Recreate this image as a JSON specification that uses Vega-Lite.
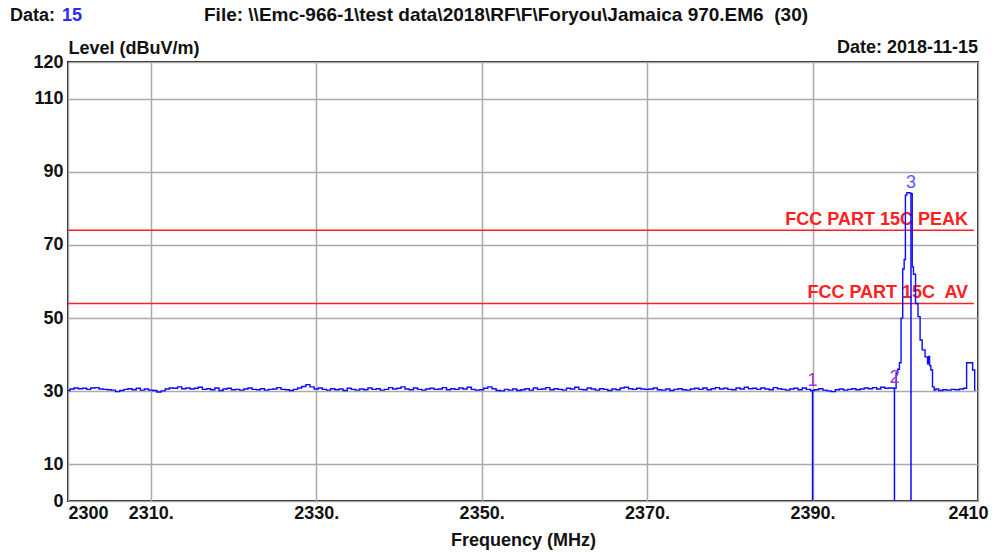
{
  "$schema": "https://vega.github.io/schema/vega-lite/v6.json",
  "width": 910,
  "height": 439,
  "autosize": {"type": "none"},
  "padding": {"left": 68, "top": 62, "right": 17, "bottom": 52},
  "background": "white",
  "config": {
    "view": {"stroke": "#1a1a1a", "strokeWidth": 2},
    "font": "Liberation Sans",
    "text": {"font": "Liberation Sans"}
  },
  "datasets": {
    "trace": [
      {"freq":2300.0,"level":30.2},{"freq":2300.5,"level":30.6},{"freq":2301.0,"level":30.9},{"freq":2301.5,"level":30.7},{"freq":2302.0,"level":30.8},{"freq":2302.5,"level":30.5},{"freq":2303.0,"level":30.9},{"freq":2303.5,"level":31.0},{"freq":2304.0,"level":30.6},{"freq":2304.5,"level":30.5},
      {"freq":2305.0,"level":30.4},{"freq":2305.5,"level":30.3},{"freq":2306.0,"level":29.9},{"freq":2306.5,"level":30.2},{"freq":2307.0,"level":30.5},{"freq":2307.5,"level":30.7},{"freq":2308.0,"level":30.4},{"freq":2308.5,"level":30.8},{"freq":2309.0,"level":30.3},{"freq":2309.5,"level":30.6},
      {"freq":2310.0,"level":30.3},{"freq":2310.5,"level":30.2},{"freq":2311.0,"level":29.8},{"freq":2311.5,"level":30.1},{"freq":2312.0,"level":30.6},{"freq":2312.5,"level":30.9},{"freq":2313.0,"level":30.8},{"freq":2313.5,"level":31.2},{"freq":2314.0,"level":30.7},{"freq":2314.5,"level":30.9},
      {"freq":2315.0,"level":30.6},{"freq":2315.5,"level":30.8},{"freq":2316.0,"level":31.1},{"freq":2316.5,"level":30.5},{"freq":2317.0,"level":30.7},{"freq":2317.5,"level":30.4},{"freq":2318.0,"level":30.9},{"freq":2318.5,"level":30.2},{"freq":2319.0,"level":30.6},{"freq":2319.5,"level":30.8},
      {"freq":2320.0,"level":30.4},{"freq":2320.5,"level":30.5},{"freq":2321.0,"level":30.3},{"freq":2321.5,"level":30.6},{"freq":2322.0,"level":30.9},{"freq":2322.5,"level":30.5},{"freq":2323.0,"level":30.4},{"freq":2323.5,"level":30.7},{"freq":2324.0,"level":30.3},{"freq":2324.5,"level":30.5},
      {"freq":2325.0,"level":30.6},{"freq":2325.5,"level":31.0},{"freq":2326.0,"level":30.5},{"freq":2326.5,"level":30.4},{"freq":2327.0,"level":30.2},{"freq":2327.5,"level":30.5},{"freq":2328.0,"level":30.9},{"freq":2328.5,"level":31.3},{"freq":2329.0,"level":31.8},{"freq":2329.5,"level":31.2},
      {"freq":2330.0,"level":30.6},{"freq":2330.5,"level":30.9},{"freq":2331.0,"level":30.5},{"freq":2331.5,"level":30.3},{"freq":2332.0,"level":30.7},{"freq":2332.5,"level":30.4},{"freq":2333.0,"level":30.6},{"freq":2333.5,"level":30.2},{"freq":2334.0,"level":30.8},{"freq":2334.5,"level":30.5},
      {"freq":2335.0,"level":30.3},{"freq":2335.5,"level":30.6},{"freq":2336.0,"level":30.4},{"freq":2336.5,"level":30.9},{"freq":2337.0,"level":30.5},{"freq":2337.5,"level":30.7},{"freq":2338.0,"level":30.3},{"freq":2338.5,"level":30.5},{"freq":2339.0,"level":31.0},{"freq":2339.5,"level":30.6},
      {"freq":2340.0,"level":30.8},{"freq":2340.5,"level":31.2},{"freq":2341.0,"level":30.6},{"freq":2341.5,"level":30.4},{"freq":2342.0,"level":30.9},{"freq":2342.5,"level":30.5},{"freq":2343.0,"level":30.3},{"freq":2343.5,"level":30.6},{"freq":2344.0,"level":30.8},{"freq":2344.5,"level":30.5},
      {"freq":2345.0,"level":30.6},{"freq":2345.5,"level":31.0},{"freq":2346.0,"level":30.4},{"freq":2346.5,"level":30.7},{"freq":2347.0,"level":30.5},{"freq":2347.5,"level":30.9},{"freq":2348.0,"level":30.6},{"freq":2348.5,"level":31.1},{"freq":2349.0,"level":30.5},{"freq":2349.5,"level":30.3},
      {"freq":2350.0,"level":30.4},{"freq":2350.5,"level":30.8},{"freq":2351.0,"level":31.2},{"freq":2351.5,"level":30.7},{"freq":2352.0,"level":30.2},{"freq":2352.5,"level":30.1},{"freq":2353.0,"level":30.5},{"freq":2353.5,"level":30.3},{"freq":2354.0,"level":30.6},{"freq":2354.5,"level":30.2},
      {"freq":2355.0,"level":30.4},{"freq":2355.5,"level":30.7},{"freq":2356.0,"level":30.3},{"freq":2356.5,"level":30.9},{"freq":2357.0,"level":30.5},{"freq":2357.5,"level":30.6},{"freq":2358.0,"level":31.0},{"freq":2358.5,"level":30.4},{"freq":2359.0,"level":30.7},{"freq":2359.5,"level":30.5},
      {"freq":2360.0,"level":30.3},{"freq":2360.5,"level":30.8},{"freq":2361.0,"level":30.6},{"freq":2361.5,"level":31.1},{"freq":2362.0,"level":30.5},{"freq":2362.5,"level":30.4},{"freq":2363.0,"level":30.9},{"freq":2363.5,"level":30.6},{"freq":2364.0,"level":30.3},{"freq":2364.5,"level":30.7},
      {"freq":2365.0,"level":30.5},{"freq":2365.5,"level":30.2},{"freq":2366.0,"level":30.6},{"freq":2366.5,"level":30.4},{"freq":2367.0,"level":30.9},{"freq":2367.5,"level":31.1},{"freq":2368.0,"level":30.7},{"freq":2368.5,"level":30.5},{"freq":2369.0,"level":30.8},{"freq":2369.5,"level":30.6},
      {"freq":2370.0,"level":30.5},{"freq":2370.5,"level":30.6},{"freq":2371.0,"level":30.9},{"freq":2371.5,"level":30.4},{"freq":2372.0,"level":30.3},{"freq":2372.5,"level":30.6},{"freq":2373.0,"level":30.2},{"freq":2373.5,"level":30.5},{"freq":2374.0,"level":30.7},{"freq":2374.5,"level":30.4},
      {"freq":2375.0,"level":30.3},{"freq":2375.5,"level":30.6},{"freq":2376.0,"level":30.8},{"freq":2376.5,"level":30.5},{"freq":2377.0,"level":30.9},{"freq":2377.5,"level":30.4},{"freq":2378.0,"level":30.7},{"freq":2378.5,"level":31.0},{"freq":2379.0,"level":30.6},{"freq":2379.5,"level":30.8},
      {"freq":2380.0,"level":30.5},{"freq":2380.5,"level":30.4},{"freq":2381.0,"level":30.9},{"freq":2381.5,"level":30.6},{"freq":2382.0,"level":31.1},{"freq":2382.5,"level":30.7},{"freq":2383.0,"level":30.8},{"freq":2383.5,"level":30.5},{"freq":2384.0,"level":30.9},{"freq":2384.5,"level":30.6},
      {"freq":2385.0,"level":30.4},{"freq":2385.5,"level":31.0},{"freq":2386.0,"level":30.7},{"freq":2386.5,"level":30.5},{"freq":2387.0,"level":30.3},{"freq":2387.5,"level":30.6},{"freq":2388.0,"level":30.8},{"freq":2388.5,"level":30.4},{"freq":2389.0,"level":30.9},{"freq":2389.5,"level":30.5},
      {"freq":2390.0,"level":30.2},{"freq":2390.5,"level":30.4},{"freq":2391.0,"level":30.7},{"freq":2391.5,"level":30.3},{"freq":2392.0,"level":30.1},{"freq":2392.5,"level":29.9},{"freq":2393.0,"level":30.4},{"freq":2393.5,"level":30.6},{"freq":2394.0,"level":30.3},{"freq":2394.5,"level":30.5},
      {"freq":2395.0,"level":30.7},{"freq":2395.5,"level":30.4},{"freq":2396.0,"level":30.6},{"freq":2396.5,"level":30.9},{"freq":2397.0,"level":30.7},{"freq":2397.5,"level":31.0},{"freq":2398.0,"level":30.6},{"freq":2398.5,"level":31.1},{"freq":2399.0,"level":30.8},{"freq":2399.5,"level":30.9},
      {"freq":2400.0,"level":30.8},{"freq":2400.2,"level":35.0},{"freq":2400.4,"level":36.0},{"freq":2400.6,"level":37.8},{"freq":2400.8,"level":50.0},{"freq":2401.0,"level":63.4},{"freq":2401.15,"level":66.0},{"freq":2401.3,"level":83.6},{"freq":2401.5,"level":84.3},{"freq":2401.8,"level":84.2},
      {"freq":2402.0,"level":84.0},{"freq":2402.1,"level":64.0},{"freq":2402.3,"level":62.0},{"freq":2402.6,"level":54.0},{"freq":2402.9,"level":50.4},{"freq":2403.1,"level":44.0},{"freq":2403.4,"level":41.3},{"freq":2403.8,"level":39.4},{"freq":2404.0,"level":37.5},{"freq":2404.1,"level":39.5},
      {"freq":2404.2,"level":37.0},{"freq":2404.4,"level":35.8},{"freq":2404.6,"level":31.2},{"freq":2404.8,"level":30.3},{"freq":2405.0,"level":30.6},{"freq":2405.5,"level":30.2},{"freq":2406.0,"level":30.4},{"freq":2406.5,"level":30.3},{"freq":2407.0,"level":30.5},{"freq":2407.5,"level":30.4},
      {"freq":2408.0,"level":30.6},{"freq":2408.5,"level":30.8},{"freq":2408.75,"level":37.8},{"freq":2409.2,"level":37.8},{"freq":2409.5,"level":35.8},{"freq":2409.7,"level":30.3}
    ],
    "limits": [
      {"label": "FCC PART 15C PEAK", "level": 74},
      {"label": "FCC PART 15C\u00a0 AV", "level": 54}
    ],
    "markers": [
      {"marker": "1", "freq": 2390.0, "level": 30.2},
      {"marker": "2", "freq": 2399.9, "level": 30.9},
      {"marker": "3", "freq": 2401.9, "level": 84.2}
    ]
  },
  "layer": [
    {
      "data": {"name": "trace"},
      "mark": {"type": "line", "color": "#0a0aff", "strokeWidth": 1.4, "interpolate": "step", "opacity": 0},
      "encoding": {
        "x": {"field": "freq", "type": "quantitative",
          "scale": {"domain": [2300, 2410], "nice": false, "zero": false},
          "axis": {
            "values": [2300, 2310, 2330, 2350, 2370, 2390, 2410],
            "format": "d",
            "labelExpr": "datum.value == 2300 || datum.value == 2410 ? datum.label : datum.label + '.'",
            "labelAlign": {"condition": {"test": "datum.value == 2300", "value": "left"}, "value": "center"},
            "labelOffset": {"condition": {"test": "datum.value == 2410", "value": -10}, "value": 0},
            "labelFlush": false,
            "labelOverlap": false,
            "labelPadding": 3,
            "labelFont": "Liberation Sans",
            "labelFontSize": 18,
            "labelFontWeight": "bold",
            "labelColor": "#111111",
            "ticks": false,
            "domain": false,
            "grid": true,
            "gridColor": "#aaaaaa",
            "gridWidth": 1.5,
            "title": "Frequency (MHz)",
            "titleFont": "Liberation Sans",
            "titleFontSize": 18,
            "titleFontWeight": "bold",
            "titleColor": "#111111",
            "titleAlign": "center",
            "titleBaseline": "alphabetic",
            "titleX": 455,
            "titleY": 44
          }
        },
        "y": {"field": "level", "type": "quantitative",
          "scale": {"domain": [0, 120], "nice": false, "zero": true},
          "axis": {
            "values": [0, 10, 30, 50, 70, 90, 110, 120],
            "labelFlush": false,
            "labelOverlap": false,
            "labelPadding": 5,
            "labelFont": "Liberation Sans",
            "labelFontSize": 18,
            "labelFontWeight": "bold",
            "labelColor": "#111111",
            "ticks": false,
            "domain": false,
            "grid": true,
            "gridColor": "#aaaaaa",
            "gridWidth": 1.5,
            "title": "Level (dBuV/m)",
            "titleFont": "Liberation Sans",
            "titleFontSize": 18,
            "titleFontWeight": "bold",
            "titleColor": "#111111",
            "titleAngle": 0,
            "titleAlign": "left",
            "titleBaseline": "alphabetic",
            "titleX": 0,
            "titleY": -9
          }
        }
      }
    },
    {
      "data": {"name": "limits"},
      "mark": {"type": "rule", "color": "#ff2020", "strokeWidth": 1.5},
      "encoding": {
        "x": {"datum": 2300, "type": "quantitative"},
        "x2": {"datum": 2409.5},
        "y": {"field": "level", "type": "quantitative"}
      }
    },
    {
      "data": {"name": "limits"},
      "mark": {"type": "text", "align": "right", "baseline": "alphabetic", "dy": -5, "color": "#ff2020", "fontSize": 18, "fontWeight": "bold", "font": "Liberation Sans"},
      "encoding": {
        "x": {"datum": 2408.8, "type": "quantitative"},
        "y": {"field": "level", "type": "quantitative"},
        "text": {"field": "label", "type": "nominal"}
      }
    },
    {
      "data": {"name": "trace"},
      "mark": {"type": "line", "color": "#0a0aff", "strokeWidth": 1.4, "interpolate": "step"},
      "encoding": {
        "x": {"field": "freq", "type": "quantitative"},
        "y": {"field": "level", "type": "quantitative"}
      }
    },
    {
      "data": {"name": "markers"},
      "mark": {"type": "rule", "color": "#0a0aff", "strokeWidth": 1.5},
      "encoding": {
        "x": {"field": "freq", "type": "quantitative"},
        "y": {"field": "level", "type": "quantitative"},
        "y2": {"datum": 0}
      }
    },
    {
      "data": {"name": "markers"},
      "mark": {"type": "text", "align": "center", "baseline": "alphabetic", "dy": -5, "fontSize": 18, "font": "Liberation Sans"},
      "encoding": {
        "x": {"field": "freq", "type": "quantitative"},
        "y": {"field": "level", "type": "quantitative"},
        "text": {"field": "marker", "type": "nominal"},
        "color": {"field": "marker", "type": "nominal", "scale": {"domain": ["1", "2", "3"], "range": ["#a035d8", "#a035d8", "#5a5aff"]}, "legend": null}
      }
    },
    {
      "data": {"values": [{}]},
      "mark": {"type": "text", "text": "Data:", "align": "left", "baseline": "alphabetic", "dx": -58, "dy": -41, "fontSize": 18, "fontWeight": "bold", "color": "#111111", "font": "Liberation Sans"},
      "encoding": {"x": {"datum": 2300, "type": "quantitative"}, "y": {"datum": 120, "type": "quantitative"}}
    },
    {
      "data": {"values": [{}]},
      "mark": {"type": "text", "text": "15", "align": "left", "baseline": "alphabetic", "dx": -6, "dy": -41, "fontSize": 18, "fontWeight": "bold", "color": "#2a2aff", "font": "Liberation Sans"},
      "encoding": {"x": {"datum": 2300, "type": "quantitative"}, "y": {"datum": 120, "type": "quantitative"}}
    },
    {
      "data": {"values": [{}]},
      "mark": {"type": "text", "text": "File: \\\\Emc-966-1\\test data\\2018\\RF\\F\\Foryou\\Jamaica 970.EM6\u00a0 (30)", "align": "left", "baseline": "alphabetic", "dx": 136, "dy": -41, "fontSize": 19, "fontWeight": "bold", "color": "#111111", "font": "Liberation Sans"},
      "encoding": {"x": {"datum": 2300, "type": "quantitative"}, "y": {"datum": 120, "type": "quantitative"}}
    },
    {
      "data": {"values": [{}]},
      "mark": {"type": "text", "text": "Date: 2018-11-15", "align": "right", "baseline": "alphabetic", "dx": 0, "dy": -9, "fontSize": 18, "fontWeight": "bold", "color": "#111111", "font": "Liberation Sans"},
      "encoding": {"x": {"datum": 2410, "type": "quantitative"}, "y": {"datum": 120, "type": "quantitative"}}
    }
  ]
}
